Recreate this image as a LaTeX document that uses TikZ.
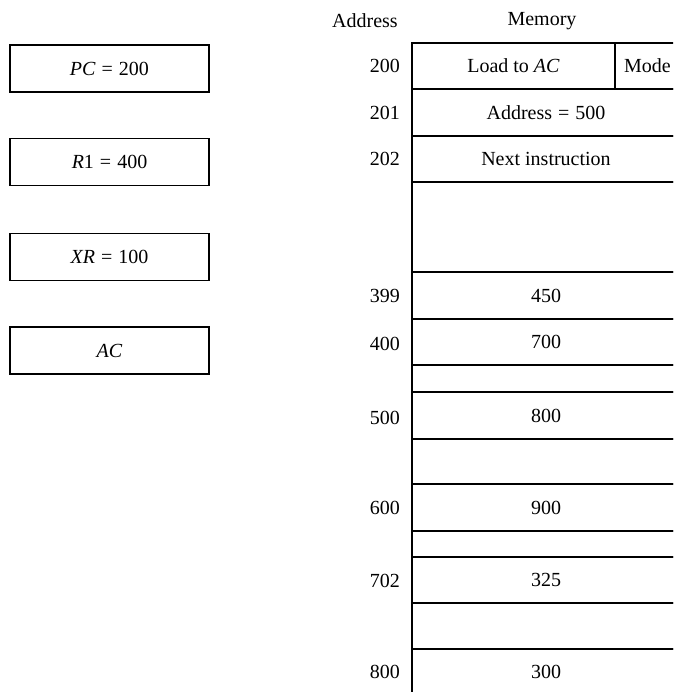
\documentclass[tikz,border=0pt]{standalone}
\usepackage{fontspec}
\setmainfont{Liberation Serif}
\newcommand{\eqs}{\hspace{0.3em}=\hspace{0.3em}}
\begin{document}
\begin{tikzpicture}[x=1pt,y=-1pt,
  txt/.style={font=\fontsize{20}{23}\selectfont},
  reg/.style={draw,line width=1.5pt,minimum width=199pt,minimum height=47pt,inner sep=0pt,outer sep=0pt,txt},
  cell/.style={draw,line width=1.5pt,minimum width=268pt,inner sep=0pt,outer sep=0pt,txt},
  addr/.style={anchor=east,inner sep=0pt,txt},
  head/.style={inner sep=0pt,txt}]
\useasboundingbox (0,0) rectangle (673,692);
\clip (0,0) rectangle (673,692);
% registers
\node[reg] (pc) at (109.5,68.5) {\textit{PC}\eqs200};
\node[reg] (r1) at (109.5,162) {\textit{R}1\eqs400};
\node[reg] (xr) at (109.5,257) {\textit{XR}\eqs100};
\node[reg] (ac) at (109.5,350.5) {\textit{AC}};
% headers
\node[head] (ha) at (365,21) {Address};
\node[head] (hm) at (542,21) {Memory};
% memory cells
\node[draw,line width=1.5pt,minimum width=203pt,minimum height=46pt,inner sep=0pt,outer sep=0pt,txt] (m200) at (513.5,66) {Load to \textit{AC}};
\node[draw,line width=1.5pt,minimum width=65pt,minimum height=46pt,inner sep=0pt,outer sep=0pt,txt,anchor=west] (mode) at (m200.east) {Mode};
\node[cell,minimum height=47pt] (m201) at (546,112.5) {Address\eqs500};
\node[cell,minimum height=46pt] (m202) at (546,159) {Next instruction};
\node[cell,minimum height=90pt] (g1) at (546,227) {};
\node[cell,minimum height=47pt] (m399) at (546,295.5) {450};
\node[cell,minimum height=46pt] (m400) at (546,342) {700};
\node[cell,minimum height=27pt] (g2) at (546,378.5) {};
\node[cell,minimum height=47pt] (m500) at (546,415.5) {800};
\node[cell,minimum height=45pt] (g3) at (546,461.5) {};
\node[cell,minimum height=47pt] (m600) at (546,507.5) {900};
\node[cell,minimum height=26pt] (g4) at (546,544) {};
\node[cell,minimum height=46pt] (m702) at (546,580) {325};
\node[cell,minimum height=46pt] (g5) at (546,626) {};
\node[cell,minimum height=46pt] (m800) at (546,672) {300};
% addresses
\node[addr] (a200) at (400,66) {200};
\node[addr] (a201) at (400,112.5) {201};
\node[addr] (a202) at (400,159) {202};
\node[addr] (a399) at (400,295.5) {399};
\node[addr] (a400) at (400,344) {400};
\node[addr] (a500) at (400,418) {500};
\node[addr] (a600) at (400,508) {600};
\node[addr] (a702) at (400,581) {702};
\node[addr] (a800) at (400,672) {800};
\end{tikzpicture}
\end{document}
